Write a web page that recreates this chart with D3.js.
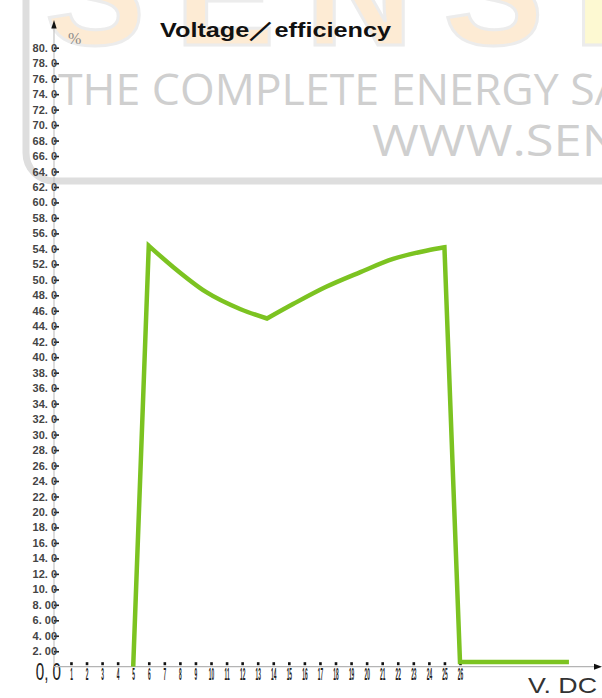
<!DOCTYPE html>
<html>
<head>
<meta charset="utf-8">
<script src="https://d3js.org/d3.v7.min.js"></script>
<style>
  body { margin: 0; background: #fff; }
  svg { display: block; }
  .ylab text { font: bold 11px "Liberation Sans", Arial, sans-serif; fill: #444; }
  .xlab text { font: bold 16px "Liberation Sans", Arial, sans-serif; fill: #222; }
</style>
</head>
<body>
<svg width="602" height="698"></svg>
<script>
// values
var volts = [5, 6.0, 7.6, 9.7, 11.9, 13.6, 15.3, 17.4, 19.6, 21.7, 23.9, 25.0, 26, 33];
var effic = [0, 54.4, 51.6, 48.4, 46.2, 45.0, 46.9, 49.1, 51.0, 52.7, 53.8, 54.2, 0.6, 0.6];
// indexes where the line has a sharp corner
var corners = [0, 1, 5, 11, 12, 13];
var yTicks = d3.range(2, 81, 2);
var xTicks = d3.range(1, 27);

var svg = d3.select("svg");

var x = d3.scaleLinear().domain([0, 26]).range([55.4, 460]);
var y = d3.scaleLinear().domain([0, 80]).range([666.7, 47.7]);

// watermark behind the chart
var wm = svg.append("g");
wm.append("rect")
  .attr("x", 26).attr("y", -60)
  .attr("width", 700).attr("height", 241)
  .attr("rx", 28)
  .attr("fill", "none")
  .attr("stroke", "#dedede")
  .attr("stroke-width", 7);
var logo = wm.append("text")
  .attr("x", 45).attr("y", 45)
  .attr("font-family", "Liberation Sans, Arial, sans-serif")
  .attr("font-weight", "bold")
  .attr("font-size", 150)
  .attr("letter-spacing", 30)
  .attr("stroke", "#ececec")
  .attr("stroke-width", 3);
logo.append("tspan").attr("fill", "#fdebd4").text("SENS");
logo.append("tspan").attr("fill", "#fdf9d2").text("I");
wm.append("text")
  .attr("x", 58).attr("y", 105)
  .attr("font-family", "Open Sans, sans-serif")
  .attr("font-size", 43)
  .attr("fill", "#cfcfcf")
  .attr("textLength", 565)
  .attr("lengthAdjust", "spacingAndGlyphs")
  .text("THE COMPLETE ENERGY SA");
wm.append("text")
  .attr("x", 372).attr("y", 156)
  .attr("font-family", "Open Sans, sans-serif")
  .attr("font-size", 43)
  .attr("fill", "#cfcfcf")
  .attr("textLength", 248)
  .attr("lengthAdjust", "spacingAndGlyphs")
  .text("WWW.SEN");

// title
svg.append("text")
  .attr("x", 160).attr("y", 37)
  .attr("font-family", "Liberation Sans, Arial, sans-serif")
  .attr("font-weight", "bold")
  .attr("font-size", 21)
  .attr("fill", "#111")
  .attr("textLength", 231)
  .attr("lengthAdjust", "spacingAndGlyphs")
  .text("Voltage／efficiency");

// y axis
svg.append("line")
  .attr("x1", 54).attr("x2", 54)
  .attr("y1", y(0)).attr("y2", 26)
  .attr("stroke", "#c4c4c4").attr("stroke-width", 1.2);
svg.append("path")
  .attr("d", "M54,20L51.3,28.5L56.7,28.5Z")
  .attr("fill", "#111");

var yAxis = svg.append("g")
  .attr("class", "ylab")
  .attr("transform", "translate(54,0)")
  .call(d3.axisLeft(y)
    .tickValues(yTicks)
    .tickSize(-5)
    .tickPadding(-3)
    .tickFormat(function(d) {
      var s = d >= 10 ? d3.format(".1f")(d) : d3.format(".2f")(d);
      return s.replace(".", ". ");
    }));
yAxis.select(".domain").remove();
yAxis.selectAll(".tick line").attr("stroke", "#222").attr("stroke-width", 1.6);

svg.append("g")
  .attr("transform", "translate(61,680)")
  .append("text")
  .attr("transform", "scale(0.66,1)")
  .attr("text-anchor", "end")
  .attr("font-family", "Liberation Sans, Arial, sans-serif")
  .attr("font-size", 23)
  .attr("fill", "#222")
  .text("0, 0");

svg.append("text")
  .attr("x", 68).attr("y", 44)
  .attr("font-family", "Liberation Serif, serif")
  .attr("font-size", 16)
  .attr("fill", "#8a8a8a")
  .text("%");

// x axis
svg.append("line")
  .attr("x1", 54).attr("x2", 596)
  .attr("y1", y(0)).attr("y2", y(0))
  .attr("stroke", "#b4b4b4").attr("stroke-width", 1.2);
svg.append("path")
  .attr("d", "M602," + y(0) + "L594," + (y(0) - 3) + "L594," + (y(0) + 3) + "Z")
  .attr("fill", "#111");

var xAxis = svg.append("g")
  .attr("class", "xlab")
  .attr("transform", "translate(0," + y(0) + ")")
  .call(d3.axisBottom(x).tickValues(xTicks).tickSize(0).tickPadding(2));
xAxis.select(".domain").remove();
xAxis.selectAll(".tick text").attr("transform", "scale(0.3,1)");
xAxis.selectAll(".tick").append("rect")
  .attr("x", -1.3).attr("y", -4.5)
  .attr("width", 2.6).attr("height", 3)
  .attr("fill", "#111");

svg.append("text")
  .attr("x", 528).attr("y", 693)
  .attr("font-family", "Liberation Sans, Arial, sans-serif")
  .attr("font-size", 22)
  .attr("fill", "#333")
  .attr("textLength", 69)
  .attr("lengthAdjust", "spacingAndGlyphs")
  .text("V. DC");

// efficiency curve: straight pieces between corners, smooth pieces where
// there are points in between
var pts = volts.map(function(v, i) { return [v, effic[i]]; });
var d = "";
for (var k = 0; k < corners.length - 1; k++) {
  var seg = pts.slice(corners[k], corners[k + 1] + 1);
  var gen = d3.line()
    .x(function(p) { return x(p[0]); })
    .y(function(p) { return y(p[1]); })
    .curve(seg.length > 2 ? d3.curveMonotoneX : d3.curveLinear);
  var s = gen(seg);
  d += k === 0 ? s : "L" + s.slice(1);
}
svg.append("path")
  .attr("d", d)
  .attr("fill", "none")
  .attr("stroke", "#7cc321")
  .attr("stroke-width", 4.5)
  .attr("stroke-linejoin", "miter");
</script>
</body>
</html>
